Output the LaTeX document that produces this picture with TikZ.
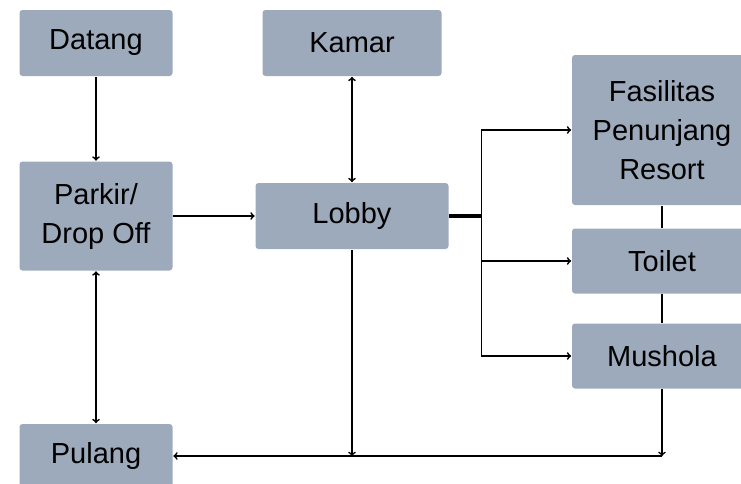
\documentclass[tikz,border=0pt]{standalone}
\usepackage{fontspec}
\setmainfont{Liberation Sans}
\usetikzlibrary{arrows,positioning}
\definecolor{boxgrey}{HTML}{9DAABB}

\begin{document}
\begin{tikzpicture}[x=1pt,y=-1pt,line width=1.7pt,>=to,
  box/.style={fill=boxgrey,rounded corners=3pt,align=center,inner sep=0pt,
    font=\fontsize{29}{39}\selectfont},
  thin box/.style={box,minimum width=153pt,minimum height=66pt},
  wide box/.style={box,minimum width=180pt,minimum height=65pt}]
\clip (0,0) rectangle (741,483);

\node[thin box] (Datang) at (96,43) {Datang};
\node[box,minimum width=179pt,minimum height=66pt] (Kamar) at (352,43) {Kamar};
\node[thin box,minimum height=109pt] (Parkir) at (96,216) {Parkir/\\Drop Off};
\node[box,minimum width=193pt,minimum height=66pt] (Lobby) at (352,216) {Lobby};
\node[wide box,minimum height=150pt] (Fas) at (662,130) {Fasilitas\\Penunjang\\Resort};
\node[wide box] (Toilet) at (662,261) {Toilet};
\node[wide box] (Mushola) at (662,356) {Mushola};
\node[thin box,minimum height=64pt] (Pulang) at (96,456) {Pulang};

\draw[->] (Datang) -- (Parkir);
\draw[<->] (Kamar) -- (Lobby);
\draw[->] (Parkir.east |- Lobby) -- (Lobby.west);
\draw[<->] (Parkir) -- (Pulang);

% cabang dari lobby
\draw[line width=3.5pt] (Lobby.east) -- ++(32,0) coordinate (split);
\draw (split |- Fas) -- (split |- Mushola);
\draw[->] (split |- Fas) -- (Fas.west);
\draw[->] (split |- Toilet) -- (Toilet.west);
\draw[->] (split |- Mushola) -- (Mushola.west);

% jalur pulang
\draw (Fas) -- (Toilet);
\draw (Toilet) -- (Mushola);
\coordinate (back) at (Mushola.south |- 0,456);
\draw[->] (Mushola) -- (back);
\draw[->] (Lobby.south) -- (Lobby.south |- back);
\draw[->] (back) -- (back -| Pulang.east);
\end{tikzpicture}
\end{document}
